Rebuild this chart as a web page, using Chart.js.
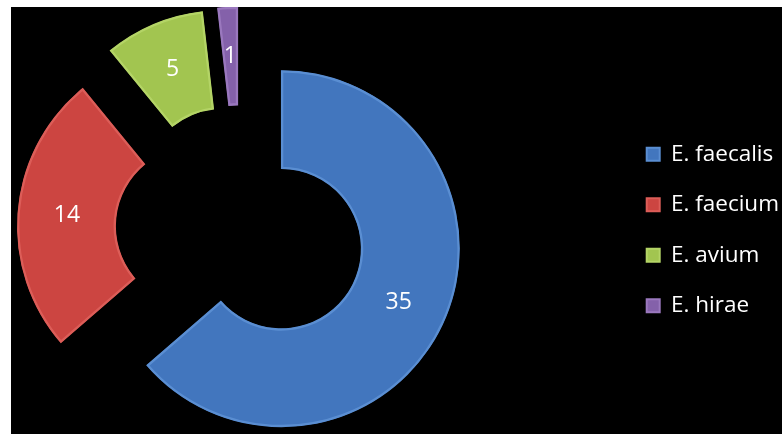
<!DOCTYPE html>
<html>
<head>
<meta charset="utf-8">
<script src="https://cdn.jsdelivr.net/npm/chart.js@4.4.1/dist/chart.umd.min.js"></script>
<style>
  html, body { margin: 0; padding: 0; background: #ffffff; overflow: hidden; }
  #panel { position: absolute; left: 11px; top: 7px; width: 771px; height: 427px; background: #000000; }
  #wrap { position: absolute; left: -138px; top: 7px; width: 930px; height: 427px; }
</style>
</head>
<body>
<div id="panel"></div>
<div id="wrap"><canvas id="c"></canvas></div>
<script>
const categories = ['E. faecalis', 'E. faecium', 'E. avium', 'E. hirae'];
const counts = [35, 14, 5, 1];
const sliceColors = ['#4276BE', '#CC4541', '#A2C550', '#8461AA'];
const rimColors = ['#5A8ED2', '#DC5D58', '#B4D466', '#9A78BE'];

const EXPLODE = 45;

const explodePlugin = {
  id: 'explode',
  afterUpdate(chart) {
    const meta = chart.getDatasetMeta(0);
    meta.data.forEach(arc => {
      const mid = (arc.startAngle + arc.endAngle) / 2;
      arc.x += Math.cos(mid) * EXPLODE;
      arc.y += Math.sin(mid) * EXPLODE;
    });
  }
};

const valueLabels = {
  id: 'valueLabels',
  afterDatasetsDraw(chart) {
    const ctx = chart.ctx;
    const meta = chart.getDatasetMeta(0);
    ctx.save();
    ctx.fillStyle = '#ffffff';
    ctx.font = '23px "Open Sans", sans-serif';
    ctx.textAlign = 'center';
    ctx.textBaseline = 'middle';
    meta.data.forEach((arc, i) => {
      const p = arc.tooltipPosition();
      ctx.fillText(String(counts[i]), p.x, p.y);
    });
    ctx.restore();
  }
};

new Chart(document.getElementById('c'), {
  type: 'doughnut',
  data: {
    labels: categories,
    datasets: [{
      data: counts,
      backgroundColor: sliceColors,
      borderColor: rimColors,
      borderWidth: 2,
      borderAlign: 'inner'
    }]
  },
  options: {
    responsive: true,
    maintainAspectRatio: false,
    animation: false,
    radius: 178.5,
    cutout: 91,
    layout: { padding: { left: 0, right: 3, top: 19, bottom: 0 } },
    plugins: {
      tooltip: { enabled: false },
      legend: {
        position: 'right',
        labels: {
          color: '#ffffff',
          font: { family: '"Open Sans", sans-serif', size: 22.5 },
          boxWidth: 13,
          boxHeight: 13,
          padding: 28
        }
      }
    }
  },
  plugins: [explodePlugin, valueLabels]
});
</script>
</body>
</html>
